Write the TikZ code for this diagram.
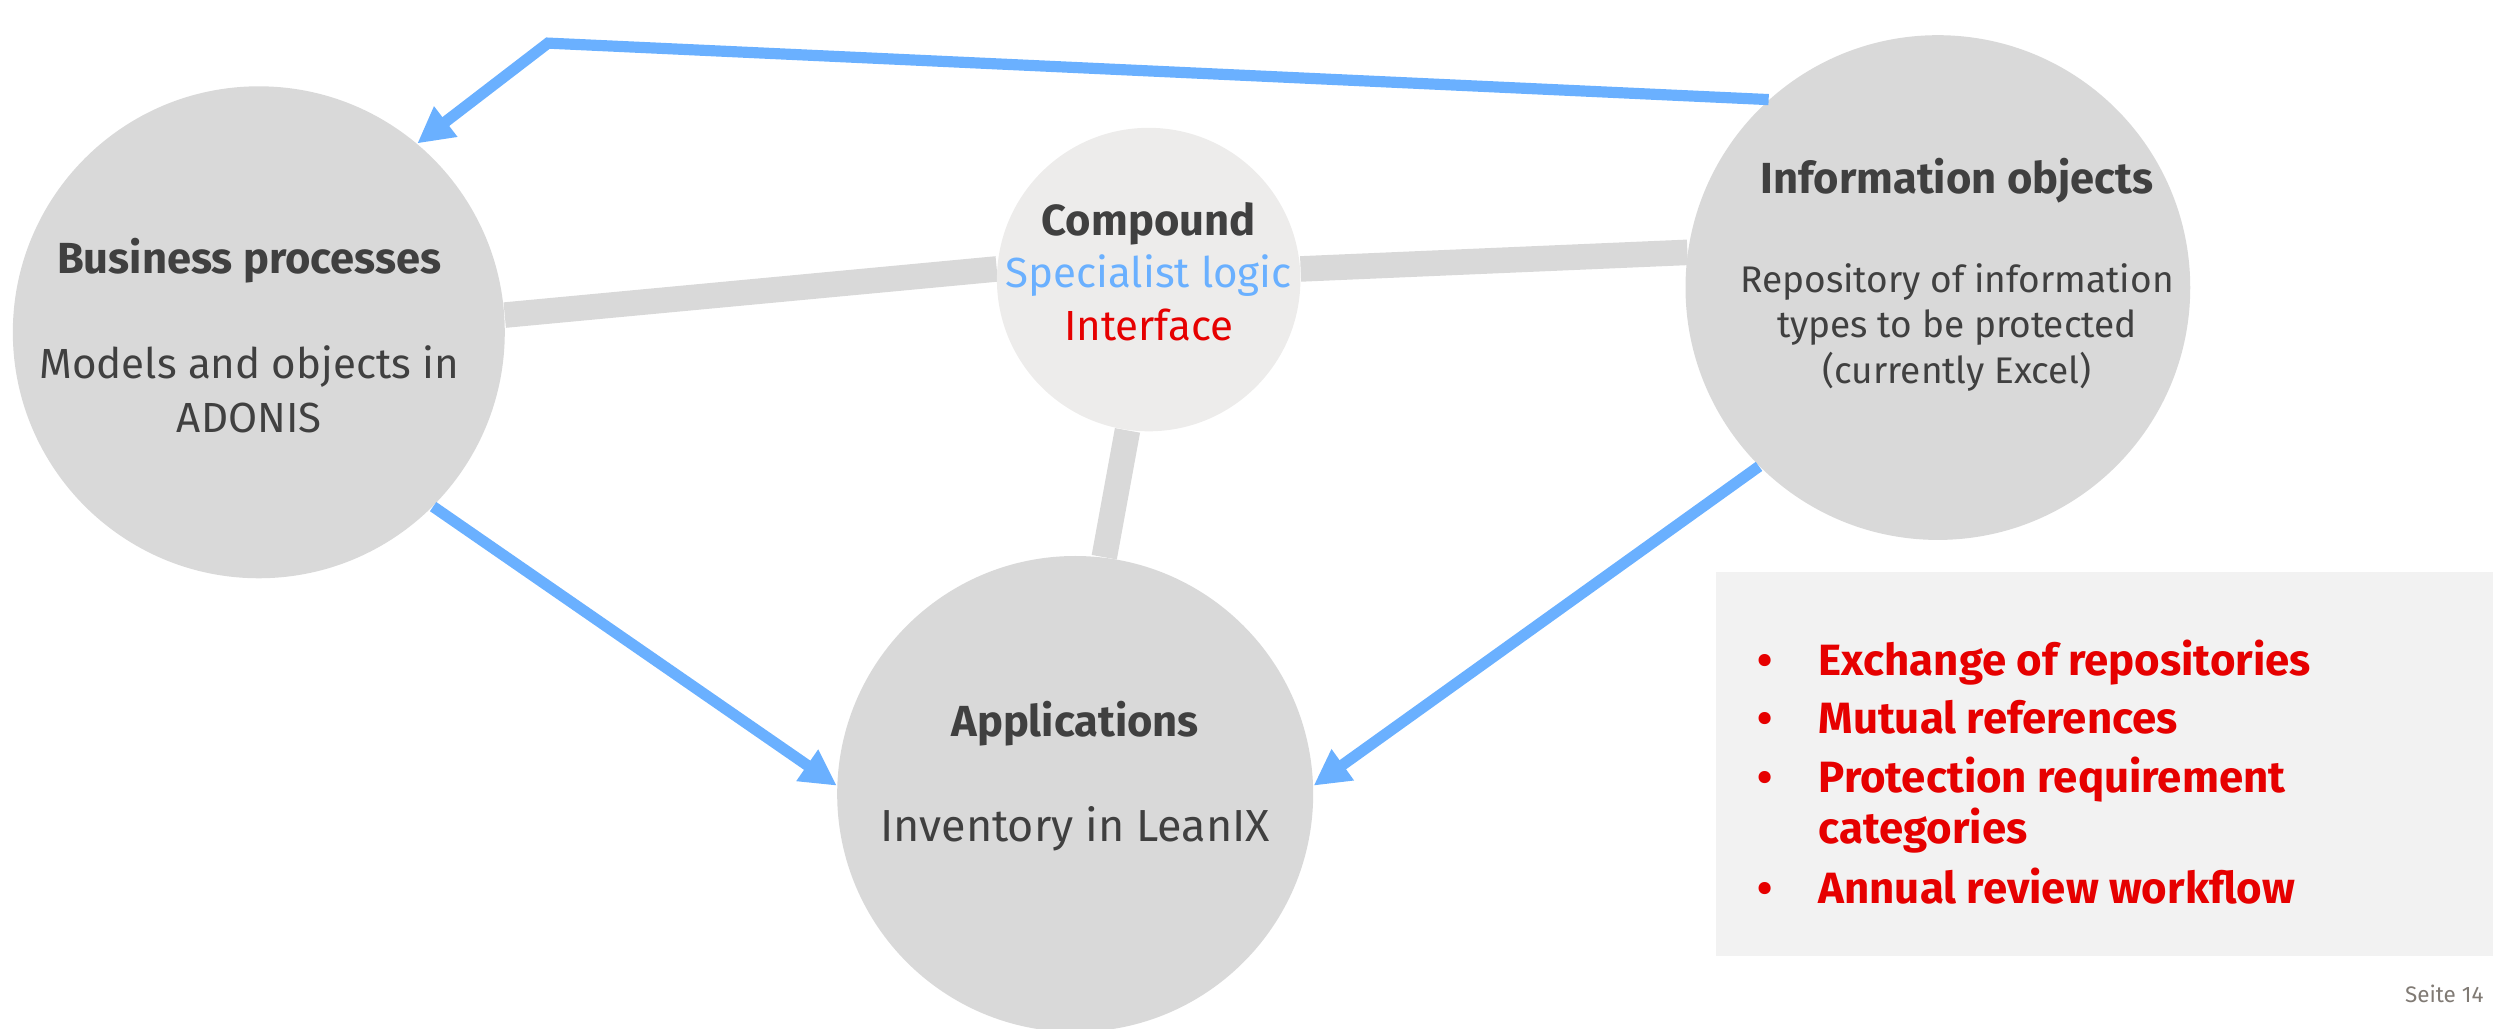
\documentclass[tikz,border=0pt]{standalone}
\usepackage{fontspec}
\setmainfont{Fira Sans}
\usepackage{tikz}
\usetikzlibrary{arrows.meta}
\pgfdeclarelayer{bg}
\pgfsetlayers{bg,main}
\definecolor{circgray}{RGB}{217,217,217}
\definecolor{cmpgray}{RGB}{237,236,235}
\definecolor{boxgray}{RGB}{242,242,242}
\definecolor{flowblue}{RGB}{106,176,255}
\definecolor{txtgray}{RGB}{64,64,64}
\definecolor{alertred}{RGB}{230,0,0}
\definecolor{pagegray}{RGB}{128,122,116}
\newcommand{\ttl}[1]{{\fontsize{15.5}{19}\selectfont\bfseries #1}}
\tikzset{
    circ/.style={circle, fill=circgray, inner sep=0pt},
    txt/.style={align=center, text=txtgray, inner sep=0pt,
    	font=\fontsize{15}{19.3}\selectfont},
    link/.style={draw=circgray, line width=0.32cm},
    flow/.style={draw=flowblue, line width=0.14cm,
    	-{Triangle[length=0.45cm, width=0.45cm]}}
}

\begin{document}
\begin{tikzpicture}[x=0.02cm, y=-0.02cm]
  \useasboundingbox (0,0) rectangle (1568,644);

  \node[circ, minimum size=6.16cm] (bp) at (162,208) {};
  \node[circ, minimum size=6.32cm] (io) at (1213,180) {};
  \node[circ, minimum size=5.96cm] (app) at (673,497) {};
  \node[circ, fill=cmpgray, minimum size=3.8cm] (cmp) at (719,175) {};

  \node[txt] (bptxt) at (156,210) {\ttl{Business processes}\\[18pt]
    Models and objects in\\ADONIS};
  \node[txt, font=\fontsize{13.2}{16.2}\selectfont] (iotxt) at (1225,172)
    {\ttl{Information objects}\\[19pt]
    Repository of information\\types to be protected\\(currently Excel)};
  \node[txt, font=\fontsize{16}{19.3}\selectfont] (apptxt) at (673,486)
    {\ttl{Applications}\\[18pt]Inventory in LeanIX};
  \node[txt, font=\fontsize{15}{18.7}\selectfont] (cmptxt) at (719,170)
    {\ttl{Compound}\\\textcolor{flowblue}{Specialist logic}\\
    \textcolor{alertred}{Interface}};

  \begin{pgfonlayer}{bg}
    \draw[link] (bp.4) -- (cmp.176);
    \draw[link] (cmp.4) -- (io.172);
    \draw[link] (cmp.262) -- (app.83);
  \end{pgfonlayer}

  \coordinate (turn) at (343,27);
  \draw[flow] (io.132) -- (turn) -- (bp.50);
  \draw[flow] (bp.315) -- (app.178);
  \draw[flow] (io.225) -- (app.2);

  \node[fill=boxgray, minimum width=9.72cm, minimum height=4.8cm,
    inner sep=0pt, anchor=north west] (box) at (1074,358) {};
  \node[align=left, anchor=north west, inner sep=0pt, text=alertred,
    font=\fontsize{15.6}{18.1}\selectfont\bfseries] (items) at (1100,400) {%
    \makebox[0.76cm][l]{\textbullet}Exchange of repositories\\[2.8pt]
    \makebox[0.76cm][l]{\textbullet}Mutual references\\[2.8pt]
    \makebox[0.76cm][l]{\textbullet}Protection requirement\\
    \hspace*{0.76cm}categories\\[3.5pt]
    \makebox[0.76cm][l]{\textbullet}Annual review workflow};

  \node[text=pagegray, font=\fontsize{8}{9}\selectfont, inner sep=0pt]
    (page) at (1530,622) {Seite 14};
\end{tikzpicture}
\end{document}
